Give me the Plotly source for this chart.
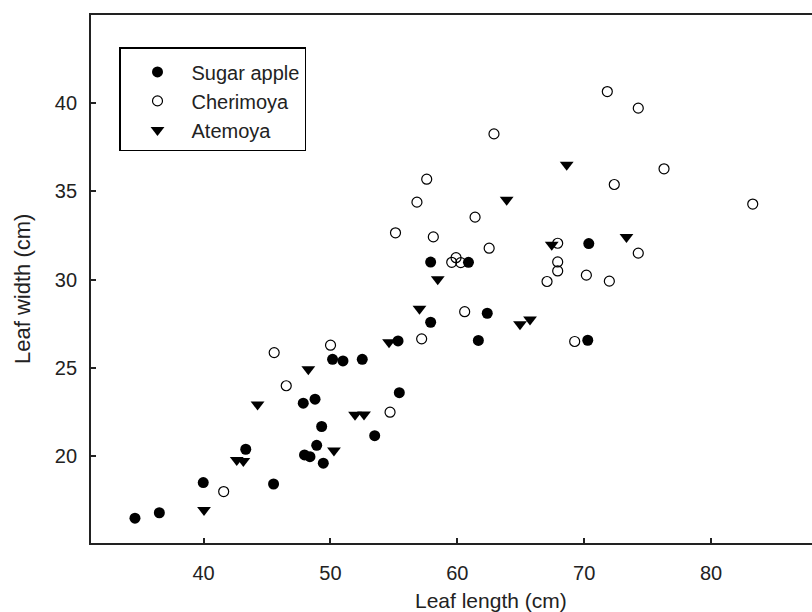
import plotly.graph_objects as go

# Sugar apple
sugar_x = [34.60, 36.52, 39.98, 45.52, 43.33, 47.86, 48.79, 49.31, 47.96, 48.39, 48.92, 49.44,
           50.17, 50.99, 52.51, 53.49, 55.33, 55.43, 57.90, 57.90, 60.88, 62.36, 61.66, 70.36, 70.28]
sugar_y = [16.47, 16.78, 18.49, 18.41, 20.38, 22.99, 23.22, 21.67, 20.06, 19.96, 20.60, 19.59,
           25.48, 25.39, 25.48, 21.15, 26.52, 23.59, 30.99, 27.58, 30.98, 28.09, 26.55, 32.04, 26.56]

# Cherimoya
cher_x = [41.59, 45.57, 46.52, 50.01, 54.70, 55.13, 56.82, 57.59, 58.11, 57.19, 59.56, 59.90,
          60.27, 60.58, 61.40, 62.51, 62.89, 67.07, 67.91, 67.91, 67.91, 70.17, 69.25, 71.98,
          71.82, 74.26, 72.37, 74.26, 76.29, 83.28]
cher_y = [17.98, 25.86, 23.98, 26.28, 22.48, 32.65, 34.39, 35.69, 32.42, 26.64, 30.98, 31.24,
          30.96, 28.18, 33.54, 31.78, 38.26, 29.89, 32.06, 31.00, 30.49, 30.25, 26.49, 29.91,
          40.66, 39.72, 35.39, 31.50, 36.28, 34.28]

# Atemoya
atem_x = [40.04, 42.62, 43.14, 44.26, 48.26, 50.28, 51.94, 52.65, 54.62, 57.02, 58.46, 63.89,
          68.62, 67.44, 64.94, 65.73, 73.33]
atem_y = [16.94, 19.77, 19.72, 22.92, 24.91, 20.31, 22.33, 22.35, 26.44, 28.34, 30.02, 34.52,
          36.51, 31.97, 27.46, 27.74, 32.42]

series_names = ["Sugar apple", "Cherimoya", "Atemoya"]
x_ticks = [40, 50, 60, 70, 80]
y_ticks = [20, 25, 30, 35, 40]

FONT = "Liberation Sans, Arial, sans-serif"

fig = go.Figure()
fig.add_trace(go.Scatter(x=sugar_x, y=sugar_y, mode="markers", name=series_names[0],
                         marker=dict(symbol="circle", size=11, color="black",
                                     line=dict(width=0))))
fig.add_trace(go.Scatter(x=cher_x, y=cher_y, mode="markers", name=series_names[1],
                         marker=dict(symbol="circle-open", size=10, color="black",
                                     line=dict(width=1.2, color="black"))))
fig.add_trace(go.Scatter(x=atem_x, y=atem_y, mode="markers", name=series_names[2],
                         marker=dict(symbol="triangle-down", size=12, color="black",
                                     line=dict(width=0))))

L, R, T, B = 91, 812, 15, 543
W_plot = R - L
H_plot = B - T


def px2paper(px, py):
    return (px - L) / W_plot, (B - py) / H_plot


lx, ly = px2paper(119, 47)
tx, ty = px2paper(491, 600)
yx, yy = px2paper(22, 289)

fig.update_layout(
    width=812, height=612,
    margin=dict(l=L, r=812 - R, t=T, b=612 - B),
    paper_bgcolor="white", plot_bgcolor="white",
    font=dict(family=FONT, size=20, color="#222"),
    showlegend=True,
    legend=dict(x=lx, y=ly, xanchor="left", yanchor="top",
                bordercolor="black", borderwidth=1.5, bgcolor="white",
                font=dict(family=FONT, size=20, color="#222"),
                indentation=3, itemwidth=58, tracegroupgap=0,
                entrywidth=188, entrywidthmode="pixels",
                title=dict(text=" ", font=dict(size=3))),
    xaxis=dict(range=[31.135, 87.95], tickvals=x_ticks, ticks="inside", ticklen=5,
               tickwidth=1.5, tickcolor="#222", showline=True, linecolor="#222",
               linewidth=1.8, mirror=True, showgrid=False, zeroline=False,
               tickfont=dict(size=20), ticklabelstandoff=11),
    yaxis=dict(range=[15.065, 45.0], tickvals=y_ticks, ticks="inside", ticklen=5,
               tickwidth=1.5, tickcolor="#222", showline=True, linecolor="#222",
               linewidth=1.8, mirror=False, showgrid=False, zeroline=False,
               tickfont=dict(size=20), ticklabelstandoff=8),
    annotations=[
        dict(text="Leaf length (cm)", x=tx, y=ty, xref="paper", yref="paper",
             xanchor="center", yanchor="middle",
             showarrow=False, font=dict(size=21)),
        dict(text="Leaf width (cm)", x=yx, y=yy, xref="paper", yref="paper",
             xanchor="center", yanchor="middle",
             showarrow=False, textangle=-90, font=dict(size=22)),
    ],
)

fig.write_html("out.html", config={"displayModeBar": False})
